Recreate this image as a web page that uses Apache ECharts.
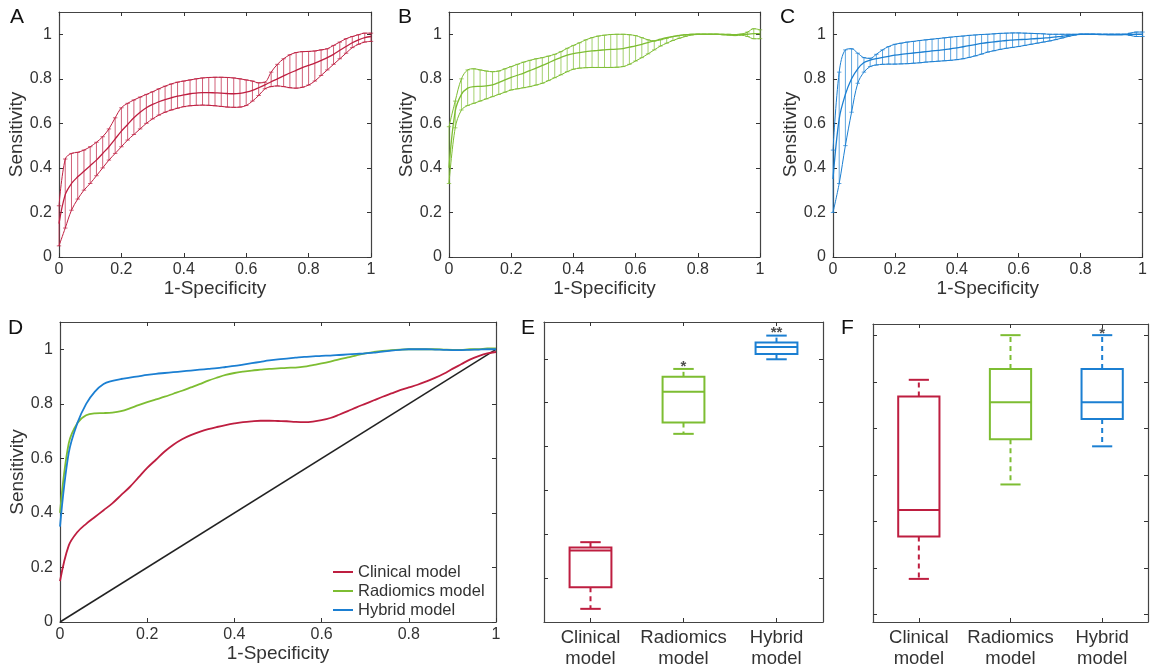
<!DOCTYPE html>
<html>
<head>
<meta charset="utf-8">
<script src="https://cdn.jsdelivr.net/npm/echarts@6/dist/echarts.min.js"></script>
<style>
  html, body { margin: 0; padding: 0; background: #fff; }
  #chart { width: 1150px; height: 671px; }
</style>
</head>
<body>
<div id="chart"></div>
<script>
// false positive rate grid shared by the ROC curves
const fpr = [0,0.02,0.04,0.06,0.08,0.10,0.12,0.14,0.16,0.18,0.20,0.22,0.24,0.26,0.28,0.30,0.32,0.34,0.36,0.38,0.40,0.42,0.44,0.46,0.48,0.50,0.52,0.54,0.56,0.58,0.60,0.62,0.64,0.66,0.68,0.70,0.72,0.74,0.76,0.78,0.80,0.82,0.84,0.86,0.88,0.90,0.92,0.94,0.96,0.98,1.00];

// clinical model (A / red in D)
const clinicalMean = [0.15,0.28,0.33,0.36,0.385,0.41,0.435,0.465,0.495,0.53,0.565,0.595,0.625,0.65,0.67,0.685,0.697,0.707,0.715,0.722,0.728,0.733,0.736,0.738,0.738,0.737,0.736,0.734,0.733,0.735,0.74,0.748,0.76,0.773,0.787,0.80,0.813,0.826,0.838,0.85,0.86,0.87,0.882,0.895,0.91,0.928,0.945,0.962,0.975,0.985,0.99];
const clinicalUpper = [0.23,0.44,0.465,0.47,0.48,0.495,0.515,0.54,0.575,0.625,0.67,0.69,0.705,0.718,0.73,0.742,0.755,0.767,0.777,0.785,0.79,0.795,0.80,0.804,0.806,0.807,0.807,0.806,0.804,0.80,0.795,0.79,0.782,0.785,0.83,0.865,0.89,0.908,0.918,0.922,0.923,0.925,0.93,0.935,0.95,0.965,0.98,0.99,0.998,1.005,1.005];
const clinicalLower = [0.05,0.13,0.21,0.26,0.30,0.33,0.365,0.40,0.435,0.465,0.495,0.525,0.55,0.575,0.60,0.62,0.637,0.65,0.66,0.668,0.675,0.679,0.681,0.682,0.681,0.679,0.676,0.673,0.672,0.673,0.68,0.70,0.725,0.755,0.765,0.768,0.765,0.76,0.758,0.762,0.772,0.79,0.815,0.84,0.865,0.89,0.915,0.94,0.955,0.965,0.968];

// radiomics model (B / green in D)
const radiomicsMean = [0.40,0.655,0.73,0.758,0.765,0.766,0.768,0.773,0.783,0.795,0.806,0.816,0.826,0.837,0.848,0.86,0.872,0.885,0.896,0.906,0.913,0.918,0.922,0.925,0.928,0.93,0.932,0.933,0.936,0.942,0.948,0.955,0.963,0.97,0.978,0.985,0.99,0.994,0.997,0.999,1.0,1.0,1.0,1.0,0.999,0.998,0.998,1.0,1.0,1.003,1.003];
const radiomicsUpper = [0.585,0.70,0.80,0.84,0.845,0.84,0.835,0.832,0.835,0.845,0.855,0.865,0.875,0.883,0.89,0.895,0.902,0.91,0.922,0.937,0.95,0.962,0.975,0.985,0.992,0.996,0.999,1.0,1.0,0.998,0.994,0.985,0.975,0.97,0.975,0.982,0.99,0.995,0.998,1.0,1.0,1.0,1.0,1.0,1.0,1.0,0.998,1.0,1.01,1.025,1.02];
const radiomicsLower = [0.33,0.58,0.66,0.68,0.69,0.70,0.71,0.72,0.73,0.74,0.75,0.755,0.76,0.765,0.772,0.78,0.792,0.805,0.818,0.832,0.843,0.848,0.85,0.851,0.851,0.851,0.851,0.852,0.855,0.865,0.88,0.895,0.912,0.93,0.947,0.96,0.972,0.982,0.99,0.997,1.0,1.0,1.0,1.0,0.998,0.996,0.994,0.996,0.99,0.98,0.98];

// hybrid model (C / blue in D)
const hybridMean = [0.35,0.62,0.73,0.80,0.845,0.873,0.884,0.891,0.896,0.901,0.906,0.91,0.913,0.916,0.919,0.922,0.925,0.928,0.931,0.935,0.939,0.944,0.949,0.954,0.959,0.963,0.966,0.969,0.972,0.974,0.976,0.977,0.979,0.981,0.983,0.985,0.988,0.991,0.995,0.998,1.0,1.0,1.0,0.999,0.998,0.997,0.997,0.998,0.999,1.0,1.0];
const hybridUpper = [0.48,0.83,0.93,0.935,0.915,0.895,0.892,0.91,0.93,0.945,0.955,0.96,0.965,0.968,0.972,0.975,0.978,0.981,0.984,0.987,0.99,0.992,0.995,0.997,0.999,1.0,1.002,1.004,1.005,1.006,1.006,1.005,1.004,1.003,1.002,1.0,1.0,1.0,1.0,1.0,1.0,1.0,1.0,1.0,1.0,1.0,1.0,1.0,1.005,1.01,1.01];
const hybridLower = [0.20,0.33,0.50,0.65,0.78,0.83,0.855,0.862,0.865,0.866,0.866,0.867,0.868,0.87,0.872,0.875,0.877,0.879,0.881,0.883,0.886,0.89,0.896,0.903,0.911,0.92,0.926,0.932,0.937,0.941,0.945,0.95,0.955,0.96,0.965,0.97,0.976,0.983,0.99,0.996,1.0,1.0,1.0,1.0,1.0,1.0,1.0,1.0,0.995,0.99,0.99];

const chanceLine = [[0, 0], [1, 1]];

// box plots: [min, q1, median, q3, max] (arbitrary units, no scale printed)
const boxCategories = ['Clinical\nmodel', 'Radiomics\nmodel', 'Hybrid\nmodel'];
const boxE = [[0.30,0.79,1.63,1.70,1.82],[4.29,4.55,5.25,5.59,5.77],[5.99,6.11,6.27,6.37,6.53]];
const boxF = [[0.77,1.68,2.25,4.69,5.05],[2.80,3.77,4.57,5.28,6.01],[3.62,4.21,4.57,5.28,6.01]];
const starsE = ['', '*', '**'];
const starsEY = [0, 5.89, 6.65];
const starsF = ['', '', '*'];
const starsFY = [0, 0, 6.11];

const RED = '#be1e40', GREEN = '#7dbd32', BLUE = '#1b7fd2';
const boxColors = [RED, GREEN, BLUE];
const FONT = 'Liberation Sans, Arial, sans-serif';

const chart = echarts.init(document.getElementById('chart'));

const grids = [
  { left: 59, top: 12, width: 312, height: 245 },
  { left: 449, top: 12, width: 311, height: 245 },
  { left: 833, top: 12, width: 312, height: 245 },
  { left: 60, top: 322, width: 436, height: 300 },
  { left: 544, top: 322, width: 279, height: 300 },
  { left: 873, top: 324, width: 275, height: 298 }
];

const axisLine = { show: true, onZero: false, lineStyle: { color: '#444', width: 1.2 } };
const tickIn = { show: true, inside: true, length: 4, lineStyle: { color: '#333' } };
const labelStyle = { fontFamily: FONT, fontSize: 16, color: '#333' };
const nameStyle = { fontFamily: FONT, fontSize: 19, color: '#333' };

const xAxes = [], yAxes = [];
for (let i = 0; i < 4; i++) {
  xAxes.push({
    gridIndex: i, type: 'value', min: 0, max: 1, interval: 0.2,
    name: '1-Specificity', nameLocation: 'middle', nameGap: 20, nameTextStyle: nameStyle,
    axisLine, axisTick: tickIn, splitLine: { show: false },
    axisLabel: Object.assign({ margin: 5 }, labelStyle)
  });
  xAxes.push({
    gridIndex: i, type: 'value', position: 'top', min: 0, max: 1, interval: 0.2,
    axisLine, axisTick: tickIn, splitLine: { show: false }, axisLabel: { show: false }
  });
  yAxes.push({
    gridIndex: i, type: 'value', min: 0, max: 1.1, interval: 0.2,
    name: 'Sensitivity', nameLocation: 'middle', nameGap: i === 3 ? 30 : 29, nameTextStyle: nameStyle,
    axisLine, axisTick: Object.assign({}, tickIn, { customValues: [0, 0.2, 0.4, 0.6, 0.8, 1] }),
    splitLine: { show: false },
    axisLabel: Object.assign({ margin: 7, formatter: v => (v > 1.05 ? '' : String(v)) }, labelStyle)
  });
  yAxes.push({
    gridIndex: i, type: 'value', position: 'right', min: 0, max: 1.1, interval: 0.2,
    axisLine, axisTick: Object.assign({}, tickIn, { customValues: [0, 0.2, 0.4, 0.6, 0.8, 1] }),
    splitLine: { show: false }, axisLabel: { show: false }
  });
}
const boxY = [
  { min: 0, max: 6.84, ticks: [1, 2, 3, 4, 5, 6] },
  { min: -0.157, max: 6.25, ticks: [0, 1, 2, 3, 4, 5, 6] }
];
for (let j = 0; j < 2; j++) {
  const g = 4 + j;
  xAxes.push({
    gridIndex: g, type: 'category', data: boxCategories,
    axisLine, axisTick: Object.assign({ alignWithLabel: true }, tickIn),
    axisLabel: { interval: 0, fontFamily: FONT, fontSize: 18.5, color: '#333', lineHeight: 21, margin: 5 }
  });
  xAxes.push({
    gridIndex: g, type: 'category', position: 'top', data: boxCategories,
    axisLine, axisTick: Object.assign({ alignWithLabel: true }, tickIn), axisLabel: { show: false }
  });
  for (const pos of ['left', 'right']) {
    yAxes.push({
      gridIndex: g, type: 'value', position: pos, min: boxY[j].min, max: boxY[j].max,
      axisLine, axisTick: Object.assign({}, tickIn, { customValues: boxY[j].ticks }),
      splitLine: { show: false }, axisLabel: { show: false }
    });
  }
}

function errorBarRender(params, api) {
  const x = api.value(0);
  const lo = api.coord([x, api.value(1)]);
  const hi = api.coord([x, api.value(2)]);
  const c = api.visual('color');
  const w = 2.2;
  const style = { stroke: c, lineWidth: 1, opacity: 0.7 };
  return {
    type: 'group',
    children: [
      { type: 'line', shape: { x1: lo[0], y1: lo[1], x2: hi[0], y2: hi[1] }, style },
      { type: 'line', shape: { x1: lo[0] - w, y1: lo[1], x2: lo[0] + w, y2: lo[1] }, style },
      { type: 'line', shape: { x1: hi[0] - w, y1: hi[1], x2: hi[0] + w, y2: hi[1] }, style }
    ]
  };
}

function boxRender(params, api) {
  const cat = api.value(0);
  const band = api.size([1, 0])[0];
  const c = boxColors[cat];
  const pMin = api.coord([cat, api.value(1)]);
  const pQ1 = api.coord([cat, api.value(2)]);
  const pMed = api.coord([cat, api.value(3)]);
  const pQ3 = api.coord([cat, api.value(4)]);
  const pMax = api.coord([cat, api.value(5)]);
  const x = pMed[0], hw = band * 0.225, cw = band * 0.11;
  const solid = { stroke: c, lineWidth: 2, fill: null };
  const dashed = { stroke: c, lineWidth: 2, lineDash: [5, 4] };
  return {
    type: 'group',
    children: [
      { type: 'line', shape: { x1: x, y1: pQ3[1], x2: x, y2: pMax[1] }, style: dashed },
      { type: 'line', shape: { x1: x, y1: pQ1[1], x2: x, y2: pMin[1] }, style: dashed },
      { type: 'line', shape: { x1: x - cw, y1: pMax[1], x2: x + cw, y2: pMax[1] }, style: solid },
      { type: 'line', shape: { x1: x - cw, y1: pMin[1], x2: x + cw, y2: pMin[1] }, style: solid },
      { type: 'rect', shape: { x: x - hw, y: pQ3[1], width: hw * 2, height: pQ1[1] - pQ3[1] }, style: solid },
      { type: 'line', shape: { x1: x - hw, y1: pMed[1], x2: x + hw, y2: pMed[1] }, style: solid }
    ]
  };
}

const panels = [
  { mean: clinicalMean, upper: clinicalUpper, lower: clinicalLower, color: RED },
  { mean: radiomicsMean, upper: radiomicsUpper, lower: radiomicsLower, color: GREEN },
  { mean: hybridMean, upper: hybridUpper, lower: hybridLower, color: BLUE }
];
const zip = arr => fpr.map((x, i) => [x, arr[i]]);

const series = [];
panels.forEach((p, i) => {
  const axes = { xAxisIndex: 2 * i, yAxisIndex: 2 * i };
  series.push(Object.assign({
    type: 'custom', color: p.color, renderItem: errorBarRender, silent: true,
    data: fpr.map((x, k) => [x, p.lower[k], p.upper[k]]), encode: { x: 0, y: [1, 2] }
  }, axes));
  for (const [arr, w] of [[p.upper, 1], [p.lower, 1], [p.mean, 1.3]]) {
    series.push(Object.assign({
      type: 'line', data: zip(arr), smooth: 0.35, showSymbol: false, silent: true,
      lineStyle: { color: p.color, width: w }
    }, axes));
  }
});

// panel D: mean ROC curves
const dNames = ['Clinical model', 'Radiomics model', 'Hybrid model'];
series.push({
  type: 'line', xAxisIndex: 6, yAxisIndex: 6, data: chanceLine, showSymbol: false, silent: true,
  lineStyle: { color: '#222', width: 1.5 }
});
panels.forEach((p, i) => {
  series.push({
    name: dNames[i], type: 'line', xAxisIndex: 6, yAxisIndex: 6, data: zip(p.mean),
    smooth: 0.35, showSymbol: false, color: p.color, lineStyle: { color: p.color, width: 1.8 }
  });
});

// panels E and F: box plots
[[boxE, starsE, starsEY], [boxF, starsF, starsFY]].forEach(([boxes, stars, starY], j) => {
  const ax = { xAxisIndex: 8 + 2 * j, yAxisIndex: 8 + 2 * j };
  series.push(Object.assign({
    type: 'custom', renderItem: boxRender, silent: true,
    data: boxes.map((b, k) => [k].concat(b)), encode: { x: 0, y: [1, 2, 3, 4, 5] }
  }, ax));
  series.push(Object.assign({
    type: 'scatter', symbolSize: 0, silent: true,
    data: stars.map((s, k) => ({ value: [k, starY[k]], name: s })).filter(d => d.name),
    label: {
      show: true, position: 'inside', offset: [0, 3], formatter: d => d.name,
      fontFamily: FONT, fontSize: 15, fontWeight: 'bold', color: '#222'
    }
  }, ax));
});

const letters = [['A', 10, 7], ['B', 398, 7], ['C', 780, 7], ['D', 8, 318], ['E', 521, 318], ['F', 841, 318]];

chart.setOption({
  animation: false,
  title: letters.map(([t, l, tp]) => ({
    text: t, left: l, top: tp, padding: 0,
    textStyle: { fontFamily: FONT, fontSize: 21, fontWeight: 'normal', color: '#111' }
  })),
  grid: grids,
  xAxis: xAxes,
  yAxis: yAxes,
  legend: {
    data: dNames, orient: 'vertical', left: 328, top: 558, icon: 'rect',
    itemWidth: 20, itemHeight: 2, itemGap: 1, selectedMode: false,
    textStyle: { fontFamily: FONT, fontSize: 16.5, color: '#333', lineHeight: 18 }
  },
  series
});
</script>
</body>
</html>
